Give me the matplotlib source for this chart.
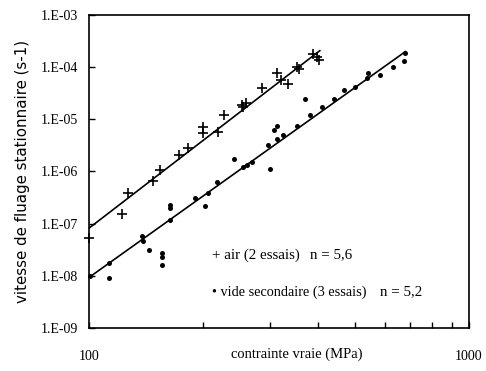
import matplotlib
matplotlib.use("Agg")
import matplotlib.pyplot as plt
import numpy as np
from matplotlib.ticker import FixedLocator, NullFormatter, NullLocator

# Steady-state creep rate vs true stress, two test environments
air_stress = [100.0, 122.1, 126.7, 147.4, 153.8, 172.5, 182.2, 199.5, 199.5,
              218.5, 226.6, 252.7, 254.3, 258.9, 285.3, 312.5, 320.2, 334.1,
              352.7, 357.0, 388.6, 398.1, 403.0]
air_rate = [5.3e-8, 1.53e-7, 3.9e-7, 6.6e-7, 1.07e-6, 2.07e-6, 2.8e-6, 7.1e-6,
            5.5e-6, 5.7e-6, 1.21e-5, 1.88e-5, 1.73e-5, 2.06e-5, 4.0e-5, 7.7e-5,
            5.7e-5, 4.75e-5, 1.01e-4, 9.2e-5, 1.79e-4, 1.57e-4, 1.37e-4]

vac_stress = [100.6, 112.9, 112.9, 137.9, 138.7, 143.8, 155.7, 155.7, 155.7,
              163.3, 163.3, 163.3, 190.1, 201.9, 205.7, 217.2, 240.8, 254.3,
              260.4, 268.5, 299.5, 295.9, 306.9, 312.5, 312.5, 324.1, 352.7,
              370.2, 381.6, 410.4, 441.4, 469.0, 501.2, 539.0, 542.3, 583.2,
              631.0, 674.6, 678.8]
vac_rate = [9.9e-9, 1.76e-8, 9.1e-9, 5.8e-8, 4.7e-8, 3.1e-8, 2.74e-8, 2.3e-8,
            1.61e-8, 2.28e-7, 2.0e-7, 1.18e-7, 3.1e-7, 2.18e-7, 3.9e-7, 6.3e-7,
            1.74e-6, 1.22e-6, 1.33e-6, 1.52e-6, 1.12e-6, 3.2e-6, 6.2e-6,
            7.4e-6, 4.2e-6, 5.0e-6, 7.4e-6, 2.45e-5, 1.21e-5, 1.73e-5, 2.45e-5,
            3.65e-5, 4.17e-5, 6.2e-5, 7.7e-5, 7.1e-5, 1.01e-4, 1.31e-4, 1.87e-4]

# Norton fits: rate = A * (sigma / 100)^n
air_n, air_A, air_range = 5.6, 8.2e-8, (100, 405)
vac_n, vac_A, vac_range = 5.2, 9.3e-9, (100, 680)

ytick_vals = [1e-9, 1e-8, 1e-7, 1e-6, 1e-5, 1e-4, 1e-3]
ytick_labels = ["1.E-09", "1.E-08", "1.E-07", "1.E-06", "1.E-05", "1.E-04", "1.E-03"]

serif = "Liberation Serif"

fig = plt.figure(figsize=(4.86, 3.71), dpi=100)
ax = fig.add_axes([0.1831, 0.1159, 0.7819, 0.8437])
ax.set_xscale("log")
ax.set_yscale("log")
ax.set_xlim(100, 1000)
ax.set_ylim(1e-9, 1e-3)

for n, A, (s0, s1) in [(air_n, air_A, air_range), (vac_n, vac_A, vac_range)]:
    s = np.array([s0, s1], dtype=float)
    ax.plot(s, A * (s / 100.0) ** n, color="black", lw=1.2, zorder=2)

ax.plot(air_stress, air_rate, ls="none", marker="+", ms=7.5, mew=1.2,
        color="black", zorder=3, clip_on=False)
ax.plot(vac_stress, vac_rate, ls="none", marker="o", ms=3.6, mew=0,
        color="black", zorder=3, clip_on=False)

for sp in ax.spines.values():
    sp.set_linewidth(1.2)

ax.yaxis.set_major_locator(FixedLocator(ytick_vals))
ax.yaxis.set_minor_locator(NullLocator())
ax.set_yticklabels(ytick_labels, fontfamily=serif, fontsize=10)
ax.tick_params(axis="y", which="major", direction="in", length=4, width=1,
               pad=8, right=False)

ax.xaxis.set_major_locator(FixedLocator([100, 1000]))
ax.xaxis.set_minor_locator(FixedLocator([200, 300, 400, 500, 600, 700, 800, 900]))
ax.xaxis.set_minor_formatter(NullFormatter())
ax.set_xticklabels(["100", "1000"], fontfamily=serif, fontsize=10)
ax.tick_params(axis="x", which="both", direction="in", length=4, width=1,
               pad=16, top=False)

ax.set_xlabel("contrainte vraie (MPa)", fontfamily=serif, fontsize=10.5)
ax.xaxis.set_label_coords(0.546, -0.083)
ax.xaxis.label.set_va("center")

ax.set_ylabel("vitesse de fluage stationnaire (s-1)",
              fontfamily="DejaVu Sans", fontsize=10.8)
ax.yaxis.set_label_coords(-0.176, 0.50)
ax.yaxis.label.set_va("center")

ax.text(0.323, 0.233, "+ air (2 essais)", transform=ax.transAxes,
        fontfamily=serif, fontsize=10.8, va="center")
ax.text(0.581, 0.233, "n = 5,6", transform=ax.transAxes,
        fontfamily=serif, fontsize=10.8, va="center")
ax.text(0.323, 0.115, "\u2022 vide secondaire (3 essais)", transform=ax.transAxes,
        fontfamily=serif, fontsize=10.3, va="center")
ax.text(0.765, 0.115, "n = 5,2", transform=ax.transAxes,
        fontfamily=serif, fontsize=10.8, va="center")

fig.savefig("out.png", dpi=100)
